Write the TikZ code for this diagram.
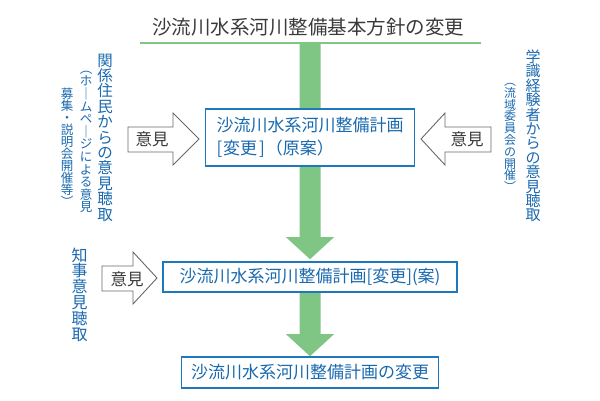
\documentclass[tikz,border=0pt]{standalone}
\usepackage{fontspec}
\usepackage{graphicx}
\newfontfamily\jp{Noto Sans CJK JP}
\usetikzlibrary{calc,backgrounds}
\definecolor{gr}{RGB}{127,198,133}
\definecolor{bl}{RGB}{30,120,190}
\definecolor{bltxt}{RGB}{25,105,175}
\definecolor{dk}{RGB}{58,58,58}
\definecolor{ol}{RGB}{105,105,105}
\begin{document}
\begin{tikzpicture}[x=1pt,y=-1pt,
  box/.style={draw=bl,line width=1.6pt,fill=white,text=bltxt,inner sep=0pt,font=\jp\fontsize{17}{23}\selectfont},
  vcol/.style={text=bltxt,inner sep=0pt,align=center},
  optxt/.style={text=dk,font=\jp\fontsize{16.5}{20}\selectfont,inner sep=0pt},
  hollow/.style={draw=ol,line width=0.9pt,fill=white,line join=miter},
  garrow/.style={fill=gr}]
\useasboundingbox (0,0) rectangle (600,400);

% title
\node[text=dk,font=\jp\fontsize{19.5}{22}\selectfont,inner sep=0pt] (title) at (308,27) {沙流川水系河川整備基本方針の変更};
\coordinate (ul) at (310,43);

% boxes
\node[box,minimum width=209pt,minimum height=57pt,align=left] (b1) at (310,137.5) {沙流川水系河川整備計画\\{[}\hspace{1pt}変更\hspace{2pt}{]}\hspace{1pt}（原案）};
\node[box,minimum width=294pt,minimum height=30pt] (b2) at (310,277) {沙流川水系河川整備計画[変更](案)};
\node[box,minimum width=257pt,minimum height=31pt] (b3) at (310,372.5) {沙流川水系河川整備計画の変更};

% green arrows and underline
\begin{scope}[on background layer]
\draw[gr,line width=2pt] ($(ul)+(-170,0)$) -- ($(ul)+(171,0)$);
\fill[garrow] ($(ul)+(-10.5,0)$) -- ($(b2.north)+(-10.5,-24)$) -- ($(b2.north)+(-24,-24)$) -- ($(b2.north)+(0,-2)$) -- ($(b2.north)+(24,-24)$) -- ($(b2.north)+(10.5,-24)$) -- ($(ul)+(10.5,0)$) -- cycle;
\fill[garrow] ($(b2.south)+(-10.5,0)$) -- ($(b3.north)+(-10.5,-22)$) -- ($(b3.north)+(-24,-22)$) -- (b3.north) -- ($(b3.north)+(24,-22)$) -- ($(b3.north)+(10.5,-22)$) -- ($(b2.south)+(10.5,0)$) -- cycle;
\end{scope}

% hollow opinion arrows
\draw[hollow] (128,127) -- (173,127) -- (173,113) -- (199,139) -- (173,165) -- (173,152) -- (128,152) -- cycle;
\node[optxt] (o1) at (152,139.5) {意見};
\draw[hollow] (491,127) -- (445,127) -- (445,113) -- (421,139) -- (445,165) -- (445,152) -- (491,152) -- cycle;
\node[optxt] (o2) at (467,139.5) {意見};
\draw[hollow] (102,266) -- (133,266) -- (133,252) -- (157,278) -- (133,304) -- (133,291) -- (102,291) -- cycle;
\node[optxt] (o3) at (127,279) {意見};

% vertical texts
\node[vcol,font=\jp\fontsize{15.5}{15.4}\selectfont] (v1) at (105,137.5) {関\\係\\住\\民\\か\\ら\\の\\意\\見\\聴\\取};
\node[vcol,font=\jp\fontsize{12.5}{12.6}\selectfont] (v2) at (86,142) {︵\\ホ\\｜\\ム\\ペ\\｜\\ジ\\に\\よ\\る\\意\\見};
\node[vcol,font=\jp\fontsize{12.5}{12}\selectfont] (v3) at (67,147) {募\\集\\・\\説\\明\\会\\開\\催\\等\\︶};
\node[vcol,font=\jp\fontsize{15}{14.4}\selectfont] (v4) at (533,136) {学\\識\\経\\験\\者\\か\\ら\\の\\意\\見\\聴\\取};
\node[vcol,font=\jp\fontsize{12}{11.8}\selectfont] (v5) at (510,137.5) {︵\\流\\域\\委\\員\\会\\の\\開\\催\\︶};
\node[vcol,font=\jp\fontsize{16}{15.8}\selectfont] (v6) at (79.5,294.5) {知\\事\\意\\見\\聴\\取};
\end{tikzpicture}
\end{document}
